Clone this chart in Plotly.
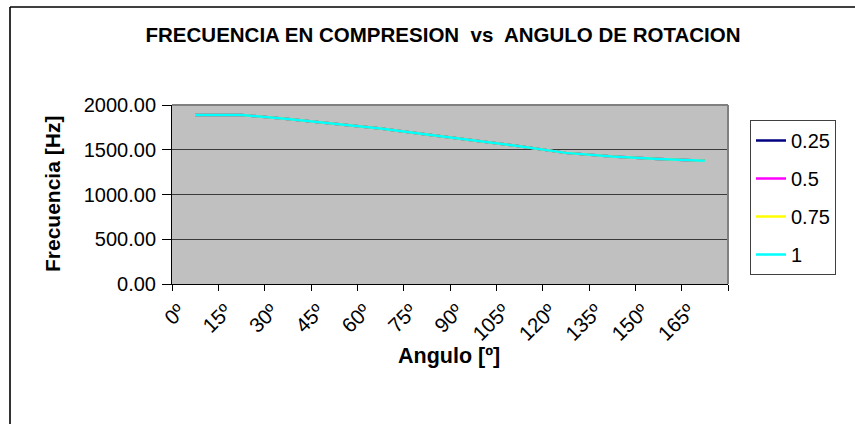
import plotly.graph_objects as go

# Categories (rotation angle) and natural frequency per load ratio
angulos = ["0º", "15º", "30º", "45º", "60º", "75º", "90º", "105º", "120º", "135º", "150º", "165º"]
series_names = ["0.25", "0.5", "0.75", "1"]
freq_025 = [1889, 1889, 1843, 1792, 1738, 1671, 1606, 1540, 1465, 1424, 1398, 1376]
freq_050 = [1889, 1889, 1843, 1792, 1738, 1671, 1606, 1540, 1465, 1424, 1398, 1376]
freq_075 = [1889, 1889, 1843, 1792, 1738, 1671, 1606, 1540, 1465, 1424, 1398, 1376]
freq_100 = [1889, 1889, 1843, 1792, 1738, 1671, 1606, 1540, 1465, 1424, 1398, 1376]
series_values = [freq_025, freq_050, freq_075, freq_100]
series_colors = ["#000080", "#FF00FF", "#FFFF00", "#00FFFF"]

W, H = 855, 424
L, R, T, B = 172, 127, 105, 140
pw, ph = W - L - R, H - T - B


def px_x(x):
    return (x - L) / pw


def px_y(y):
    return (H - B - y) / ph


FONT = "Liberation Sans, Arial, sans-serif"

fig = go.Figure()
for name, vals, col in zip(series_names, series_values, series_colors):
    fig.add_trace(go.Scatter(
        x=angulos, y=vals, name=name, mode="lines",
        line=dict(color=col, width=2.5),
        legendgroup=name,
    ))

fig.update_layout(
    width=W, height=H,
    margin=dict(l=L, r=R, t=T, b=B, autoexpand=False),
    paper_bgcolor="white",
    plot_bgcolor="#C0C0C0",
    font=dict(family=FONT, color="black", size=20),
    title=dict(
        text="<b>FRECUENCIA EN COMPRESION  vs  ANGULO DE ROTACION</b>",
        x=443 / W, xref="container", xanchor="center",
        y=1 - 35 / H, yref="container", yanchor="middle",
        font=dict(size=20.5, family=FONT),
    ),
    xaxis=dict(
        type="category",
        range=[-0.5, len(angulos) - 0.5],
        tickson="boundaries",
        ticks="outside", ticklen=6, tickcolor="black", tickwidth=1,
        tickangle=-45,
        ticklabelshift=-16,
        ticklabelstandoff=6,
        showline=True, linecolor="black", linewidth=1,
        showgrid=False,
        tickfont=dict(size=20.5),
    ),
    yaxis=dict(
        range=[0, 2000], dtick=500, tickformat=".2f",
        ticks="outside", ticklen=9, tickcolor="black", tickwidth=1,
        ticklabelstandoff=2,
        showline=True, linecolor="black", linewidth=1,
        showgrid=True, gridcolor="#3a3a3a", gridwidth=1,
        zeroline=False,
        tickfont=dict(size=20),
    ),
    legend=dict(
        x=px_x(750), y=px_y(120), xanchor="left", yanchor="top",
        bgcolor="white", bordercolor="#404040", borderwidth=1,
        font=dict(size=20),
        traceorder="grouped", tracegroupgap=9,
        entrywidth=110,
    ),
    annotations=[
        dict(text="<b>Frecuencia [Hz]</b>", textangle=-90,
             x=px_x(52), y=px_y(194), xref="paper", yref="paper",
             xanchor="center", yanchor="middle",
             showarrow=False, font=dict(size=21)),
        dict(text="<b>Angulo [º]</b>",
             x=px_x(449), y=px_y(356), xref="paper", yref="paper",
             xanchor="center", yanchor="middle",
             showarrow=False, font=dict(size=21.5)),
    ],
    shapes=[
        # outer chart frame (left and top edges)
        dict(type="line", xref="paper", yref="paper",
             x0=px_x(10), x1=px_x(10), y0=px_y(424), y1=px_y(7),
             line=dict(color="black", width=1.6)),
        dict(type="line", xref="paper", yref="paper",
             x0=px_x(10), x1=px_x(855), y0=px_y(7), y1=px_y(7),
             line=dict(color="black", width=1.6)),
        # plot-area frame (top and right)
        dict(type="line", xref="paper", yref="paper", x0=0, x1=1, y0=1, y1=1,
             line=dict(color="#808080", width=2)),
        dict(type="line", xref="paper", yref="paper", x0=1, x1=1, y0=0, y1=1,
             line=dict(color="#808080", width=2)),
    ],
)

fig.write_html("out.html")
